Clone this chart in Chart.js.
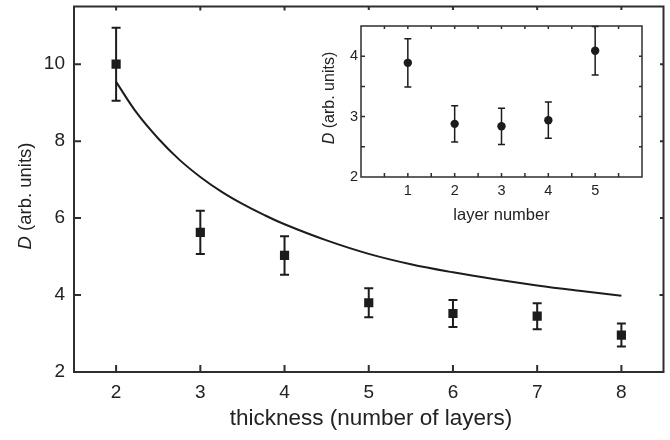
<!DOCTYPE html>
<html>
<head>
<meta charset="utf-8">
<script src="https://cdn.jsdelivr.net/npm/chart.js@4/dist/chart.umd.min.js"></script>
<style>
  html, body { margin: 0; padding: 0; background: #fff; }
  #wrap { position: relative; width: 670px; height: 440px; }
  #main { position: absolute; left: 0; top: 0; }
  #inset { position: absolute; left: 315px; top: 10px; background: #fff; }
</style>
</head>
<body>
<div id="wrap">
  <canvas id="main" width="670" height="440"></canvas>
  <canvas id="inset" width="345" height="222"></canvas>
</div>
<script>
// ---- Main panel data ----------------------------------------
var thickness = [2, 3, 4, 5, 6, 7, 8];
var dValues = [10.0, 5.63, 5.03, 3.80, 3.52, 3.45, 2.96];
var dErrors = [0.95, 0.56, 0.50, 0.38, 0.35, 0.34, 0.30];

// fitted curve
var fitX = [2, 2.25, 2.5, 2.75, 3, 3.25, 3.5, 3.75, 4, 4.5, 5, 5.5, 6, 6.5, 7, 7.5, 8];
var fitY = [9.54, 8.72, 8.07, 7.52, 7.07, 6.69, 6.37, 6.09, 5.84, 5.42, 5.07, 4.80, 4.59, 4.41, 4.25, 4.11, 3.98];

var mainXTicks = [2, 3, 4, 5, 6, 7, 8];
var mainYTicks = [2, 4, 6, 8, 10];

// ---- Inset data ---------------------------------------------
var layerNumber = [1, 2, 3, 4, 5];
var layerD = [3.89, 2.88, 2.84, 2.94, 4.09];
var layerErr = [0.40, 0.30, 0.30, 0.30, 0.40];

var insetXTicks = [1, 2, 3, 4, 5];
var insetYTicks = [2, 3, 4];
var insetXMarks = [0.5, 1, 1.5, 2, 2.5, 3, 3.5, 4, 4.5, 5, 5.5];
var insetYMarks = [2.5, 3, 3.5, 4];

var INK = '#1c1c1c';
var AXIS = '#2e2e2e';
var TEXT = '#222';
var FONT = "'Liberation Sans', Arial, sans-serif";

function pts(xs, ys) {
  return xs.map(function (x, i) { return { x: x, y: ys[i] }; });
}

function setTicks(arr) {
  return function (scale) {
    scale.ticks = arr.map(function (v) { return { value: v }; });
  };
}

// fixed axis size, and no extra room for overhanging labels
function fixSize(prop, size) {
  return function (s) {
    s[prop] = size;
    s.paddingTop = 0; s.paddingBottom = 0;
    s.paddingLeft = 0; s.paddingRight = 0;
  };
}

// ---- Error bars drawn through the chart scales --------------
function errorBarPlugin(dsIndex, errs, cap, width) {
  return {
    id: 'errbars' + dsIndex,
    beforeDatasetsDraw: function (chart) {
      var ctx = chart.ctx;
      var xs = chart.scales.x, ys = chart.scales.y;
      var data = chart.data.datasets[dsIndex].data;
      ctx.save();
      ctx.strokeStyle = INK;
      ctx.lineWidth = width;
      for (var i = 0; i < data.length; i++) {
        var px = xs.getPixelForValue(data[i].x);
        var top = ys.getPixelForValue(data[i].y + errs[i]);
        var bot = ys.getPixelForValue(data[i].y - errs[i]);
        ctx.beginPath();
        ctx.moveTo(px, top); ctx.lineTo(px, bot);
        ctx.moveTo(px - cap, top); ctx.lineTo(px + cap, top);
        ctx.moveTo(px - cap, bot); ctx.lineTo(px + cap, bot);
        ctx.stroke();
      }
      ctx.restore();
    }
  };
}

// ---- Frame with inward ticks on all four sides --------------
function framePlugin(xMarks, yMarks, lenIn, lenOpp, lw) {
  return {
    id: 'frame',
    afterDraw: function (chart) {
      var ctx = chart.ctx, a = chart.chartArea;
      var xs = chart.scales.x, ys = chart.scales.y;
      ctx.save();
      ctx.strokeStyle = AXIS;
      ctx.lineWidth = lw;
      ctx.strokeRect(a.left, a.top, a.right - a.left, a.bottom - a.top);
      ctx.beginPath();
      xMarks.forEach(function (v) {
        var px = xs.getPixelForValue(v);
        ctx.moveTo(px, a.bottom); ctx.lineTo(px, a.bottom - lenIn);
        ctx.moveTo(px, a.top); ctx.lineTo(px, a.top + lenOpp);
      });
      yMarks.forEach(function (v) {
        var py = ys.getPixelForValue(v);
        ctx.moveTo(a.left, py); ctx.lineTo(a.left + lenIn, py);
        ctx.moveTo(a.right, py); ctx.lineTo(a.right - lenOpp, py);
      });
      ctx.stroke();
      ctx.restore();
    }
  };
}

// ---- Axis titles (italic D needs two fonts) -----------------
function titlePlugin(size, xTitle, xPos, yPos) {
  return {
    id: 'titles',
    afterDraw: function (chart) {
      var ctx = chart.ctx;
      ctx.save();
      ctx.fillStyle = TEXT;
      ctx.font = size.x + 'px ' + FONT;
      ctx.textAlign = 'center';
      ctx.textBaseline = 'alphabetic';
      ctx.fillText(xTitle, xPos[0], xPos[1]);

      var italic = 'italic ' + size.y + 'px ' + FONT;
      var normal = size.y + 'px ' + FONT;
      ctx.font = italic;
      var w1 = ctx.measureText('D').width;
      ctx.font = normal;
      var w2 = ctx.measureText(' (arb. units)').width;
      ctx.translate(yPos[0], yPos[1]);
      ctx.rotate(-Math.PI / 2);
      ctx.textAlign = 'left';
      ctx.textBaseline = 'middle';
      var start = -(w1 + w2) / 2;
      ctx.font = italic;
      ctx.fillText('D', start, 0);
      ctx.font = normal;
      ctx.fillText(' (arb. units)', start + w1, 0);
      ctx.restore();
    }
  };
}

// ---- Main chart ----------------------------------------------
new Chart(document.getElementById('main').getContext('2d'), {
  type: 'scatter',
  data: {
    datasets: [
      {
        data: pts(fitX, fitY),
        showLine: true,
        pointRadius: 0,
        borderColor: INK,
        borderWidth: 2,
        tension: 0.4
      },
      {
        data: pts(thickness, dValues),
        pointStyle: 'rect',
        pointRadius: 6.5,
        backgroundColor: INK,
        borderWidth: 0
      }
    ]
  },
  options: {
    responsive: false,
    animation: false,
    layout: { padding: { top: 6, right: 2, left: 0, bottom: 0 } },
    plugins: { legend: { display: false }, tooltip: { enabled: false } },
    scales: {
      x: {
        type: 'linear', min: 1.5, max: 8.5,
        afterBuildTicks: setTicks(mainXTicks),
        afterFit: fixSize('height', 68),
        grid: { display: false, drawTicks: false },
        border: { display: false },
        ticks: { font: { family: FONT, size: 19 }, color: TEXT, padding: 9, maxRotation: 0 }
      },
      y: {
        type: 'linear', min: 2, max: 11.5,
        afterBuildTicks: setTicks(mainYTicks),
        afterFit: fixSize('width', 74),
        grid: { display: false, drawTicks: false },
        border: { display: false },
        ticks: { font: { family: FONT, size: 19 }, color: TEXT, padding: 9 }
      }
    }
  },
  plugins: [
    errorBarPlugin(1, dErrors, 4.5, 2),
    framePlugin(mainXTicks, mainYTicks, 7, 4, 2),
    titlePlugin({ x: 22.5, y: 18.5 }, 'thickness (number of layers)', [371, 425], [25.5, 196])
  ]
});

// ---- Inset chart ---------------------------------------------
new Chart(document.getElementById('inset').getContext('2d'), {
  type: 'scatter',
  data: {
    datasets: [
      {
        data: pts(layerNumber, layerD),
        pointStyle: 'circle',
        pointRadius: 4.2,
        backgroundColor: INK,
        borderWidth: 0
      }
    ]
  },
  options: {
    responsive: false,
    animation: false,
    layout: { padding: { top: 16, right: 18, left: 0, bottom: 0 } },
    plugins: { legend: { display: false }, tooltip: { enabled: false } },
    scales: {
      x: {
        type: 'linear', min: 0, max: 6,
        afterBuildTicks: setTicks(insetXTicks),
        afterFit: fixSize('height', 55),
        grid: { display: false, drawTicks: false },
        border: { display: false },
        ticks: { font: { family: FONT, size: 14.5 }, color: TEXT, padding: 5, maxRotation: 0 }
      },
      y: {
        type: 'linear', min: 2, max: 4.5,
        afterBuildTicks: setTicks(insetYTicks),
        afterFit: fixSize('width', 46),
        grid: { display: false, drawTicks: false },
        border: { display: false },
        ticks: { font: { family: FONT, size: 14.5 }, color: TEXT, padding: 3 }
      }
    }
  },
  plugins: [
    errorBarPlugin(0, layerErr, 3.5, 1.5),
    framePlugin(insetXMarks, insetYMarks, 4, 3, 1.5),
    titlePlugin({ x: 16.5, y: 16 }, 'layer number', [186.5, 209.5], [15, 88])
  ]
});
</script>
</body>
</html>
